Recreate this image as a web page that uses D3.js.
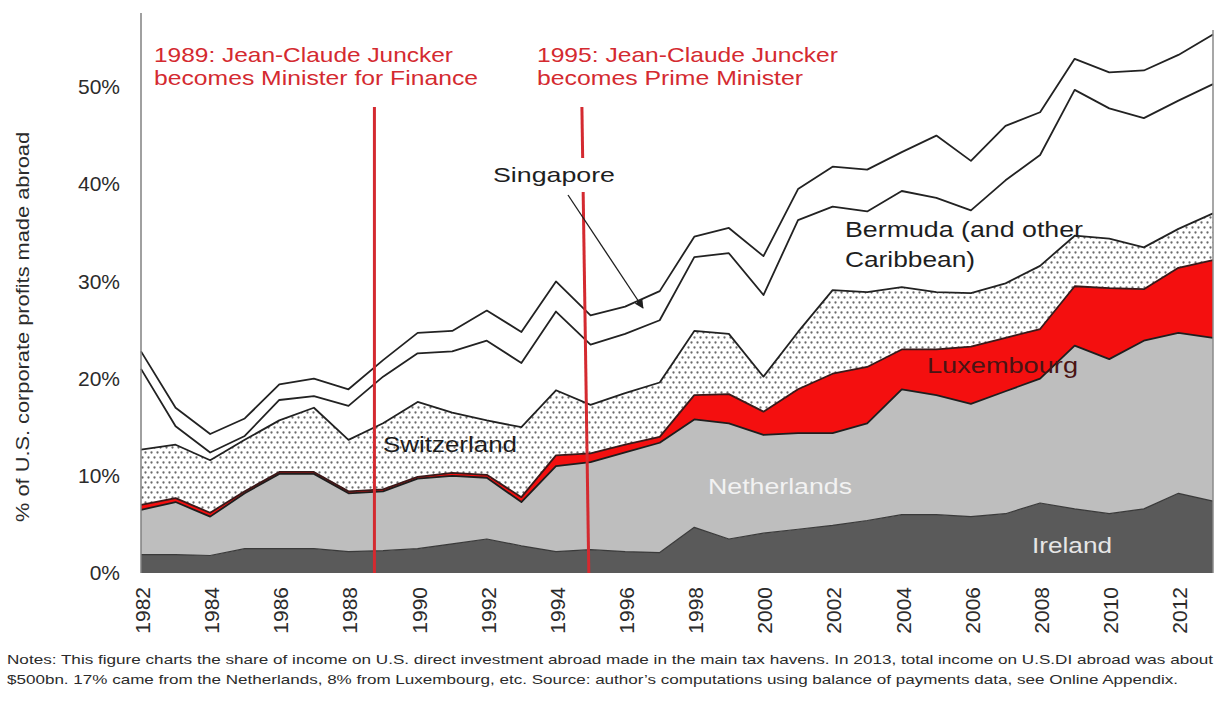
<!DOCTYPE html>
<html>
<head>
<meta charset="utf-8">
<script src="https://cdn.jsdelivr.net/npm/d3@7"></script>
<style>
  body { margin: 0; background: #fff; }
  svg { display: block; font-family: Arial, "Liberation Sans", sans-serif; }
</style>
</head>
<body>
<svg id="chart" width="1215" height="702"></svg>
<script>
// values, share of US corporate profits made abroad (%)
const years = d3.range(1982, 2014);
const ireland = [1.9,1.9,1.8,2.5,2.5,2.5,2.2,2.3,2.5,3.0,3.5,2.8,2.2,2.4,2.2,2.1,4.7,3.5,4.1,4.5,4.9,5.4,6.0,6.0,5.8,6.1,7.2,6.6,6.1,6.6,8.2,7.4];
const netherlands = [4.6,5.4,4.0,5.7,7.7,7.7,6.0,6.1,7.2,7.0,6.3,4.5,8.8,9.0,10.2,11.3,11.1,11.9,10.1,9.9,9.5,10.0,12.9,12.3,11.6,12.6,12.8,16.8,15.9,17.3,16.5,16.8];
const luxembourg = [0.5,0.4,0.4,0.2,0.2,0.2,0.2,0.2,0.2,0.3,0.3,0.5,1.1,0.9,0.8,0.6,2.5,3.0,2.4,4.5,6.1,5.8,4.1,4.7,5.9,5.5,5.1,6.1,7.3,5.3,6.7,8.0];
const switzerland = [5.7,5.5,5.4,5.3,5.3,6.6,5.3,6.8,7.7,6.2,5.6,7.2,6.7,5.0,5.3,5.6,6.6,6.2,3.6,5.9,8.6,7.7,6.4,5.9,5.5,5.6,6.5,5.2,5.1,4.3,4.0,4.8];
const bermuda = [8.3,1.9,0.8,0.4,2.1,1.2,3.5,4.8,5.0,6.3,8.2,6.6,8.1,6.2,6.1,6.4,7.6,8.3,8.4,11.5,8.6,8.3,9.9,9.7,8.5,10.6,11.4,15.0,13.4,13.3,13.2,13.3];
const singapore = [1.8,1.9,1.9,1.8,1.6,1.8,1.7,1.7,2.1,2.1,3.1,3.2,3.1,3.0,2.8,3.0,2.1,2.6,4.0,3.2,4.1,4.3,4.0,6.4,5.1,5.6,4.4,3.2,3.7,4.9,4.7,5.1];

const keys = ['Ireland','Netherlands','Luxembourg','Switzerland','Bermuda','Singapore'];
const yTicks = [0, 10, 20, 30, 40, 50];
const xTicks = d3.range(1982, 2013, 2);
const events = [
  {top: 1988.75, bottom: 1988.75, lines: ['1989: Jean-Claude Juncker', 'becomes Minister for Finance']},
  {top: 1994.75, bottom: 1994.95, lines: ['1995: Jean-Claude Juncker', 'becomes Prime Minister']}
];
const notes = [
  'Notes: This figure charts the share of income on U.S. direct investment abroad made in the main tax havens. In 2013, total income on U.S.DI abroad was about',
  '$500bn. 17% came from the Netherlands, 8% from Luxembourg, etc. Source: author\u2019s computations using balance of payments data, see Online Appendix.'
];

const rows = years.map((yr, i) => ({
  year: yr,
  Ireland: ireland[i],
  Netherlands: netherlands[i],
  Luxembourg: luxembourg[i],
  Switzerland: switzerland[i],
  Bermuda: bermuda[i],
  Singapore: singapore[i]
}));

const svg = d3.select('#chart');

const x = d3.scaleLinear().domain([1982, 2013]).range([141, 1213]);
const y = d3.scaleLinear().domain([0, 50]).range([573, 87]);

// dotted fill for Switzerland
const defs = svg.append('defs');
const pat = defs.append('pattern')
  .attr('id', 'dots')
  .attr('patternUnits', 'userSpaceOnUse')
  .attr('width', 6)
  .attr('height', 10);
pat.append('rect').attr('width', 6).attr('height', 10).attr('fill', '#fff');
pat.append('circle').attr('cx', 1.5).attr('cy', 2.5).attr('r', 1.15).attr('fill', '#6a6a6a');
pat.append('circle').attr('cx', 4.5).attr('cy', 7.5).attr('r', 1.15).attr('fill', '#6a6a6a');

const fills = {
  Ireland: '#5a5a5a',
  Netherlands: '#bebebe',
  Luxembourg: '#f40f0f',
  Switzerland: 'url(#dots)',
  Bermuda: '#fff',
  Singapore: '#fff'
};
const strokes = {
  Ireland: '#3a3a3a',
  Netherlands: '#1e1e1e',
  Luxembourg: '#3a1a1a',
  Switzerland: '#222',
  Bermuda: '#222',
  Singapore: '#222'
};

const stacked = d3.stack().keys(keys)(rows);

const area = d3.area()
  .x(d => x(d.data.year))
  .y0(d => y(d[0]))
  .y1(d => y(d[1]));

const topLine = d3.line()
  .x(d => x(d.data.year))
  .y(d => y(d[1]));

const layers = svg.append('g').attr('class', 'layers');
layers.selectAll('path.area')
  .data(stacked)
  .join('path')
  .attr('class', 'area')
  .attr('d', area)
  .attr('fill', d => fills[d.key]);

layers.selectAll('path.edge')
  .data(stacked)
  .join('path')
  .attr('class', 'edge')
  .attr('d', topLine)
  .attr('fill', 'none')
  .attr('stroke', d => strokes[d.key])
  .attr('stroke-width', d => d.key == 'Ireland' ? 1.2 : 1.8)
  .attr('stroke-linejoin', 'round');

// frame
svg.append('line')
  .attr('x1', x(1982)).attr('x2', x(1982))
  .attr('y1', 13).attr('y2', y(0))
  .attr('stroke', '#808080').attr('stroke-width', 1.5);
svg.append('line')
  .attr('x1', x(2013)).attr('x2', x(2013))
  .attr('y1', 30).attr('y2', y(0))
  .attr('stroke', '#8a8a8a').attr('stroke-width', 1.5);

// y axis
const yAxis = svg.append('g')
  .attr('transform', `translate(${x(1982)},0)`)
  .call(d3.axisLeft(y).tickValues(yTicks).tickSize(0).tickPadding(21).tickFormat(d => d + '%'));
yAxis.select('.domain').remove();
yAxis.selectAll('text')
  .attr('font-size', 21)
  .attr('font-family', 'Arial, "Liberation Sans", sans-serif')
  .attr('fill', '#2b2b2b');

// x axis, rotated labels reading upwards
const xAxis = svg.append('g')
  .attr('transform', `translate(0,${y(0)})`)
  .call(d3.axisBottom(x).tickValues(xTicks).tickSize(0).tickFormat(d3.format('d')));
xAxis.select('.domain').remove();
xAxis.selectAll('text')
  .attr('font-size', 21)
  .attr('font-family', 'Arial, "Liberation Sans", sans-serif')
  .attr('fill', '#2b2b2b')
  .attr('text-anchor', 'end')
  .attr('transform', 'rotate(-90)')
  .attr('x', -14)
  .attr('y', 1)
  .attr('dy', '0.35em');

// y title
svg.append('text')
  .attr('transform', `translate(29,${(132 + 522) / 2}) rotate(-90)`)
  .attr('text-anchor', 'middle')
  .attr('font-size', 19)
  .attr('fill', '#2b2b2b')
  .attr('textLength', 390)
  .attr('lengthAdjust', 'spacingAndGlyphs')
  .text('% of U.S. corporate profits made abroad');

// Juncker lines and notes
const red = '#d42a30';
events.forEach((ev, i) => {
  svg.append('line')
    .attr('x1', x(ev.top)).attr('x2', x(ev.bottom))
    .attr('y1', 107).attr('y2', y(0))
    .attr('stroke', red).attr('stroke-width', 3);
  const tx = i == 0 ? 154 : 537;
  const widths = i == 0 ? [299, 324] : [301, 266];
  ev.lines.forEach((t, j) => {
    svg.append('text')
      .attr('x', tx)
      .attr('y', 62 + j * 23)
      .attr('font-size', 21)
      .attr('fill', red)
      .attr('textLength', widths[j])
      .attr('lengthAdjust', 'spacingAndGlyphs')
      .text(t);
  });
});

// Singapore label + arrow
svg.append('rect')
  .attr('x', 488).attr('y', 158).attr('width', 134).attr('height', 34)
  .attr('fill', '#fff');
svg.append('text')
  .attr('x', 493).attr('y', 182)
  .attr('font-size', 21).attr('fill', '#1e1e1e')
  .attr('textLength', 122).attr('lengthAdjust', 'spacingAndGlyphs')
  .text('Singapore');

defs.append('marker')
  .attr('id', 'arrow')
  .attr('viewBox', '0 0 10 10')
  .attr('refX', 9).attr('refY', 5)
  .attr('markerWidth', 9).attr('markerHeight', 9)
  .attr('markerUnits', 'userSpaceOnUse')
  .attr('orient', 'auto')
  .append('path')
  .attr('d', 'M0,0 L10,5 L0,10 z')
  .attr('fill', '#1e1e1e');
svg.append('line')
  .attr('x1', 568).attr('y1', 195)
  .attr('x2', 643).attr('y2', 308)
  .attr('stroke', '#1e1e1e').attr('stroke-width', 1.3)
  .attr('marker-end', 'url(#arrow)');

// area labels
const labels = [
  {t: 'Bermuda (and other', x: 845, y: 237, w: 238, c: '#1e1e1e'},
  {t: 'Caribbean)', x: 845, y: 267, w: 130, c: '#1e1e1e'},
  {t: 'Switzerland', x: 383, y: 452, w: 134, c: '#1e1e1e'},
  {t: 'Luxembourg', x: 927, y: 373, w: 151, c: '#4a1414'},
  {t: 'Netherlands', x: 708, y: 494, w: 144, c: '#f2f2f2'},
  {t: 'Ireland', x: 1032, y: 553, w: 80, c: '#e6e6e6'}
];
svg.append('g').selectAll('text')
  .data(labels)
  .join('text')
  .attr('x', d => d.x)
  .attr('y', d => d.y)
  .attr('font-size', 22)
  .attr('fill', d => d.c)
  .attr('textLength', d => d.w)
  .attr('lengthAdjust', 'spacingAndGlyphs')
  .text(d => d.t);

// notes
svg.append('g').selectAll('text')
  .data(notes)
  .join('text')
  .attr('x', 7)
  .attr('y', (d, i) => 664 + i * 20)
  .attr('font-size', 13)
  .attr('fill', '#2b2b2b')
  .attr('textLength', (d, i) => i == 0 ? 1206 : 1171)
  .attr('lengthAdjust', 'spacingAndGlyphs')
  .text(d => d);
</script>
</body>
</html>
